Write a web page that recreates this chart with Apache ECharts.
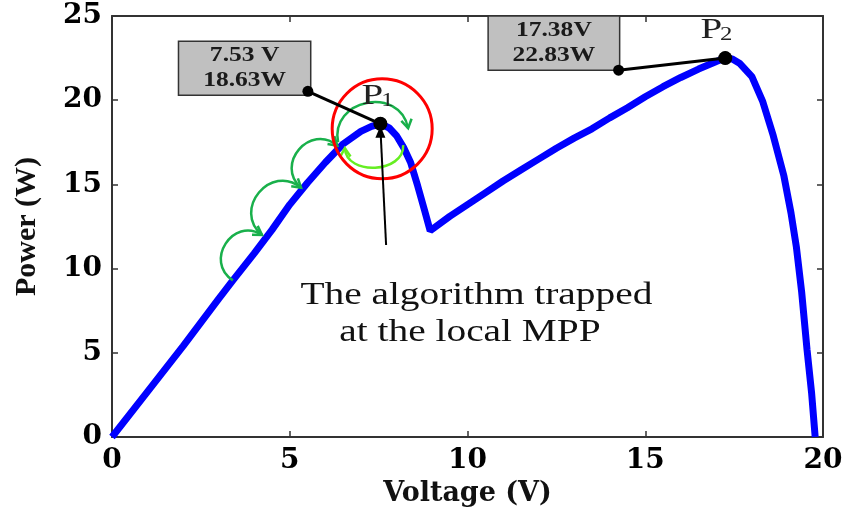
<!DOCTYPE html>
<html>
<head>
<meta charset="UTF-8">
<title>P-V curve</title>
<script src="https://cdn.jsdelivr.net/npm/echarts@6.0.0/dist/echarts.min.js"></script>
</head>
<body style="margin:0;background:#fff">
<div id="main" style="width:842px;height:513px"></div>
<script type="text/javascript">
// P-V curve under partial shading
var curveV = [0, 1, 2, 3, 3.4, 4, 4.5, 5, 5.5, 6, 6.5, 7, 7.3, 7.55, 7.8, 8.0, 8.2, 8.4, 8.6, 8.8, 8.95,
	9.5, 10, 10.5, 11, 11.5, 12, 12.5, 13, 13.5, 14, 14.5, 15, 15.5, 16, 16.5, 17.0, 17.25,
	17.45, 17.65, 18.0, 18.3, 18.6, 18.9, 19.1, 19.25, 19.4, 19.55, 19.68, 19.78];
var curveP = [0, 2.7, 5.4, 8.2, 9.3, 10.9, 12.3, 13.8, 15.1, 16.3, 17.4, 18.15, 18.45, 18.6, 18.35, 17.9, 17.2, 16.3, 14.9, 13.4, 12.25,
	13.1, 13.8, 14.5, 15.2, 15.85, 16.5, 17.15, 17.75, 18.3, 18.95, 19.55, 20.2, 20.8, 21.35, 21.85, 22.3, 22.5,
	22.45, 22.2, 21.4, 19.95, 17.9, 15.5, 13.3, 11.3, 8.6, 5.2, 2.6, 0];

// local (P1) and global (P2) peaks
var peakV = [7.55, 17.25];
var peakP = [18.6, 22.5];
var peakSub = ['1', '2'];
var peakText = [['7.53 V', '18.63W'], ['17.38V', '22.83W']];

// hill-climbing steps (points where the green arrows land)
var stepV = [3.4, 4.22, 5.32, 6.34];
var stepP = [9.3, 12.0, 14.8, 17.3];

var xMin = 0, xMax = 20, xStep = 5;
var yMin = 0, yMax = 25, yStep = 5;

var curve = [];
for (var i = 0; i < curveV.length; i++) curve.push([curveV[i], curveP[i]]);
var peaks = [];
for (var i = 0; i < peakV.length; i++) peaks.push([peakV[i], peakP[i]]);

var axisCol = '#333';
var tickFont = {fontFamily: 'DejaVu Serif', fontWeight: 'bold', fontSize: 28, color: '#000'};
var lineStyle = {onZero: false, lineStyle: {color: axisCol, width: 2}};
var tickStyle = {inside: true, length: 6, lineStyle: {color: axisCol, width: 1.5}};

var chart = echarts.init(document.getElementById('main'));
chart.setOption({
	animation: false,
	grid: {left: 112, right: 19, top: 16, bottom: 76, outerBoundsMode: 'none'},
	xAxis: [{
		type: 'value', min: xMin, max: xMax, interval: xStep,
		name: 'Voltage (V)', nameLocation: 'middle', nameGap: 43,
		nameTextStyle: {fontFamily: 'DejaVu Serif', fontWeight: 'bold', fontSize: 27, color: '#111'},
		axisLine: lineStyle, axisTick: tickStyle,
		axisLabel: Object.assign({margin: 10}, tickFont),
		splitLine: {show: false}
	}, {
		type: 'value', position: 'top', min: xMin, max: xMax, interval: xStep,
		axisLine: lineStyle, axisTick: tickStyle,
		axisLabel: {show: false}, splitLine: {show: false}
	}],
	yAxis: [{
		type: 'value', min: yMin, max: yMax, interval: yStep,
		name: 'Power (W)', nameLocation: 'middle', nameGap: 70, nameRotate: 90,
		nameTextStyle: {fontFamily: 'Liberation Serif', fontWeight: 'bold', fontSize: 30, color: '#111'},
		axisLine: lineStyle, axisTick: tickStyle,
		axisLabel: Object.assign({margin: 10}, tickFont),
		splitLine: {show: false}
	}, {
		type: 'value', position: 'right', min: yMin, max: yMax, interval: yStep,
		axisLine: lineStyle, axisTick: tickStyle,
		axisLabel: {show: false}, splitLine: {show: false}
	}],
	series: [{
		type: 'line', data: curve, showSymbol: false, symbol: 'none',
		lineStyle: {color: '#0000ff', width: 7}, z: 2
	}, {
		type: 'scatter', data: peaks, symbolSize: 14,
		itemStyle: {color: '#000', opacity: 1}, z: 5
	}]
});

function px(v, p) { return chart.convertToPixel({seriesIndex: 0}, [v, p]); }

var g = [];
var Z = 10;
var txt = function (s, font, fill) {
	return {text: s, font: font, fill: fill, align: 'center', verticalAlign: 'middle', textAlign: 'center', textVerticalAlign: 'middle'};
};

// green arc with an open arrowhead at its end
function arc(a, b, bulge, color) {
	var A = px(a[0], a[1]), B = px(b[0], b[1]);
	var dx = B[0] - A[0], dy = B[1] - A[1], len = Math.sqrt(dx * dx + dy * dy);
	var nx = dy / len, ny = -dx / len;
	var k = bulge * len / 0.75;
	g.push({type: 'bezierCurve', z: Z, shape: {
		x1: A[0], y1: A[1], x2: B[0], y2: B[1],
		cpx1: A[0] + nx * k, cpy1: A[1] + ny * k, cpx2: B[0] + nx * k, cpy2: B[1] + ny * k
	}, style: {stroke: color, lineWidth: 2.5, fill: null}});
	var h = 10, c = Math.cos(0.55), s = Math.sin(0.55);
	var l1 = [B[0] + h * (nx * c - ny * s), B[1] + h * (nx * s + ny * c)];
	var l2 = [B[0] + h * (nx * c + ny * s), B[1] + h * (-nx * s + ny * c)];
	g.push({type: 'polyline', z: Z, shape: {points: [l1, B, l2]}, style: {stroke: color, lineWidth: 2.5, fill: null}});
}

for (var i = 0; i < stepV.length - 1; i++) {
	arc([stepV[i], stepP[i]], [stepV[i + 1], stepP[i + 1]], 0.48, '#19b04b');
}
arc([6.36, 17.5], [8.33, 18.34], 0.46, '#19b04b');
arc([8.19, 17.33], [6.55, 17.15], 0.36, '#66ee22');

// red circle around the local peak
var C = px(7.6, 18.3);
g.push({type: 'circle', z: Z, shape: {cx: C[0], cy: C[1], r: 50}, style: {stroke: '#ff0000', lineWidth: 3, fill: null}});

// black arrow pointing at P1
var T = px(peakV[0], peakP[0]), Bt = px(7.71, 11.4);
g.push({type: 'line', z: Z, shape: {x1: Bt[0], y1: Bt[1], x2: T[0], y2: T[1] + 4}, style: {stroke: '#000', lineWidth: 2}});
g.push({type: 'polygon', z: Z, shape: {points: [[T[0], T[1] + 2], [T[0] - 5, T[1] + 14], [T[0] + 5, T[1] + 14]]}, style: {fill: '#000'}});

// value boxes and leader lines
var boxTL = [[1.87, 23.5], [10.58, 25.0]];
var boxBR = [[5.59, 20.3], [14.28, 21.78]];
var boxTip = [[5.51, 20.53], [14.25, 21.78]];
for (var i = 0; i < 2; i++) {
	var a = px(boxTL[i][0], boxTL[i][1]), b = px(boxBR[i][0], boxBR[i][1]);
	g.push({type: 'rect', z: Z, shape: {x: a[0], y: a[1], width: b[0] - a[0], height: b[1] - a[1]},
		style: {fill: '#c0c0c0', stroke: '#333', lineWidth: 1.5}});
	var cx = (a[0] + b[0]) / 2, h = b[1] - a[1];
	for (var j = 0; j < 2; j++) {
		g.push({type: 'text', z: Z + 1, x: cx, y: a[1] + h * (j === 0 ? 0.27 : 0.72), scaleX: 1.16,
			style: txt(peakText[i][j], 'bold 22px "Liberation Serif"', '#1a1a1a')});
	}
	var tp = px(boxTip[i][0], boxTip[i][1]), pk = px(peakV[i], peakP[i]);
	g.push({type: 'line', z: Z, shape: {x1: tp[0], y1: tp[1], x2: pk[0], y2: pk[1]}, style: {stroke: '#000', lineWidth: 3}});
	g.push({type: 'circle', z: Z + 1, shape: {cx: tp[0], cy: tp[1], r: 5.5}, style: {fill: '#000'}});
	g.push({type: 'circle', z: Z + 1, shape: {cx: pk[0], cy: pk[1], r: 6.5}, style: {fill: '#000'}});
	// P label with subscript
	var off = i === 0 ? -8 : -14;
	g.push({type: 'text', z: Z + 1, x: pk[0] + off, y: pk[1] - 28, scaleX: 1.3,
		style: txt('P', '30px "Liberation Serif"', '#222')});
	g.push({type: 'text', z: Z + 1, x: pk[0] + off + 15, y: pk[1] - 23, scaleX: 1.3,
		style: txt(peakSub[i], '19px "Liberation Serif"', '#222')});
}

// explanation text
var t1 = px(10.25, 8.37), t2 = px(10.07, 6.2);
g.push({type: 'text', z: Z, x: t1[0], y: t1[1], scaleX: 1.23,
	style: txt('The algorithm trapped', '32px "Liberation Serif"', '#111')});
g.push({type: 'text', z: Z, x: t2[0], y: t2[1], scaleX: 1.23,
	style: txt('at the local MPP', '32px "Liberation Serif"', '#111')});

chart.setOption({graphic: {elements: g}});
</script>
</body>
</html>
